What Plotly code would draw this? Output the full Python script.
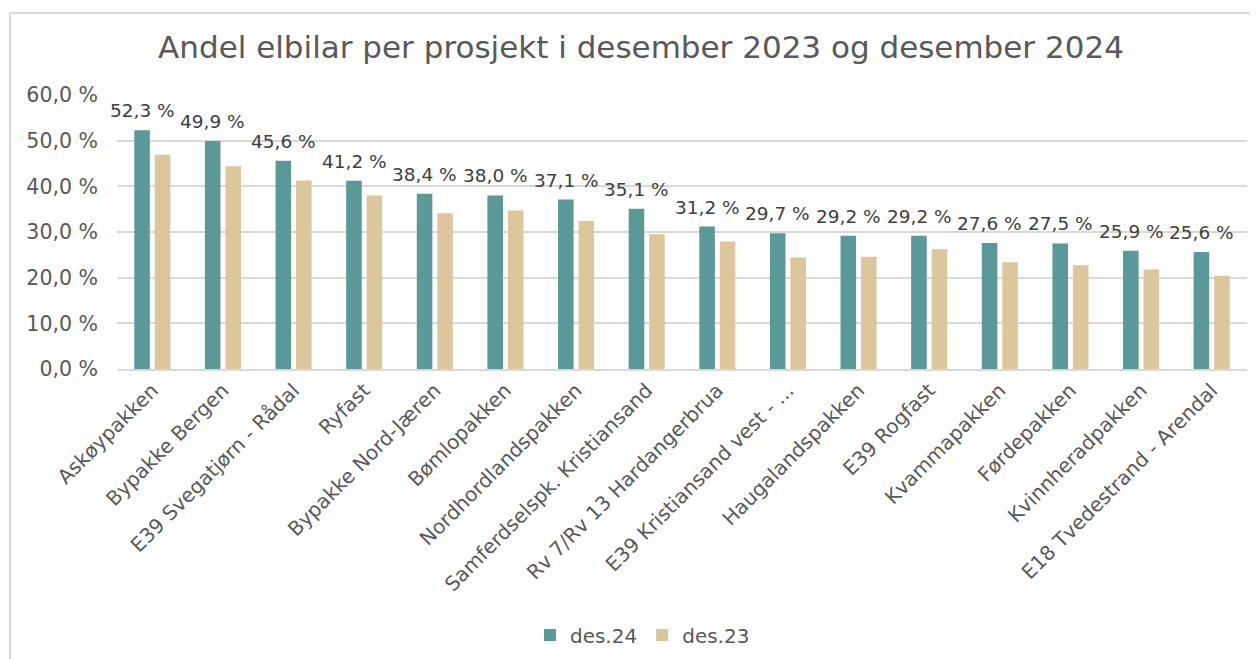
import plotly.graph_objects as go

categories = ["Askøypakken", "Bypakke Bergen", "E39 Svegatjørn - Rådal", "Ryfast",
              "Bypakke Nord-Jæren", "Bømlopakken", "Nordhordlandspakken",
              "Samferdselspk. Kristiansand", "Rv 7/Rv 13 Hardangerbrua",
              "E39 Kristiansand vest - ...", "Haugalandspakken", "E39 Rogfast",
              "Kvammapakken", "Førdepakken", "Kvinnheradpakken", "E18 Tvedestrand - Arendal"]
des24 = [52.3, 49.9, 45.6, 41.2, 38.4, 38.0, 37.1, 35.1, 31.2, 29.7, 29.2, 29.2, 27.6, 27.5, 25.9, 25.6]
des23 = [46.9, 44.4, 41.3, 38.0, 34.1, 34.7, 32.4, 29.5, 27.9, 24.4, 24.6, 26.2, 23.4, 22.7, 21.8, 20.4]
tick_vals = [0, 10, 20, 30, 40, 50, 60]
tick_text = ["0,0 %", "10,0 %", "20,0 %", "30,0 %", "40,0 %", "50,0 %", "60,0 %"]

FONT = "DejaVu Sans"
TEAL = "#5B9898"
BEIGE = "#DCC69B"
GREY = "#595959"

fig = go.Figure()
fig.add_trace(go.Bar(name="des.24", x=categories, y=des24, marker_color=TEAL,
                     marker_line_width=0))
fig.add_trace(go.Bar(name="des.23", x=categories, y=des23, marker_color=BEIGE,
                     marker_line_width=0))

for c, v in zip(categories, des24):
    fig.add_annotation(x=c, y=v, text=f"{v:.1f} %".replace(".", ","),
                       showarrow=False, xshift=-10, yshift=7, yanchor="bottom",
                       font=dict(family=FONT, size=18.5, color="#404040"))

# outer chart border (top and left)
fig.add_shape(type="line", xref="paper", yref="paper", x0=-0.0947, x1=1.02,
              y0=1.299, y1=1.299, line=dict(color="#D9D9D9", width=2))
fig.add_shape(type="line", xref="paper", yref="paper", x0=-0.0947, x1=-0.0947,
              y0=1.299, y1=-1.2, line=dict(color="#D9D9D9", width=2))

H = 651
fig.update_layout(
    width=1250, height=H,
    margin=dict(l=109, r=11, t=87, b=290),
    paper_bgcolor="white", plot_bgcolor="white",
    barmode="group", bargap=0.42, bargroupgap=0.24,
    title=dict(text="Andel elbilar per prosjekt i desember 2023 og desember 2024",
               x=0.5064, xanchor="center", y=1 - 39 / H, yanchor="middle",
               yref="container",
               font=dict(family=FONT, size=31, color=GREY)),
    font=dict(family=FONT, color=GREY),
    legend=dict(orientation="h", x=0.465, xanchor="center",
                y=1 - 627 / H, yanchor="middle", yref="container",
                font=dict(family=FONT, size=20, color=GREY), itemwidth=30),
    yaxis=dict(range=[0, 60], tickvals=tick_vals, ticktext=tick_text,
               showgrid=True, gridcolor="#D9D9D9", gridwidth=1.5,
               zeroline=False, showline=False, ticks="", automargin=False,
               tickfont=dict(family=FONT, size=20.5, color=GREY), ticklabelstandoff=18),
    xaxis=dict(range=[-0.5, len(categories) - 0.5], tickangle=-45, showline=True,
               linecolor="#D9D9D9", linewidth=1.5,
               ticks="", automargin=False,
               tickfont=dict(family=FONT, size=20, color=GREY)),
    showlegend=True,
)

fig.write_html("out.html")
